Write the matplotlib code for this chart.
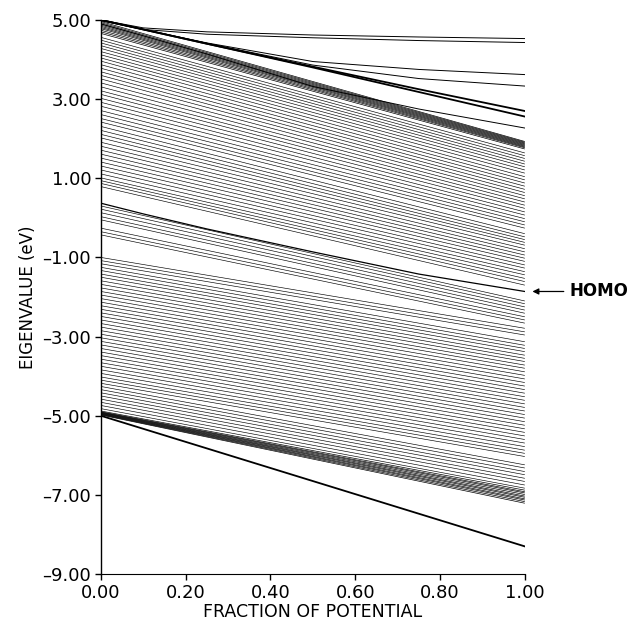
import matplotlib
matplotlib.use("Agg")
import matplotlib.pyplot as plt

# eigenvalues (eV), at fraction = 0 and fraction = 1
top_bunch_start = [4.96, 4.93, 4.90, 4.87, 4.84, 4.81, 4.78, 4.74, 4.70, 4.66]
top_bunch_end = [1.93, 1.91, 1.89, 1.87, 1.85, 1.83, 1.81, 1.79, 1.77, 1.74]

upper_start = [4.56, 4.49, 4.42, 4.35, 4.28, 4.20, 4.12, 4.04, 3.96, 3.87,
               3.78, 3.69, 3.60, 3.51, 3.41, 3.31, 3.21, 3.12, 3.02, 2.92,
               2.82, 2.71, 2.61, 2.51, 2.42, 2.31, 2.21, 2.11, 2.02, 1.91,
               1.81, 1.71, 1.61, 1.51, 1.41, 1.31, 1.21, 1.11, 1.01, 0.94,
               0.87, 0.79]
upper_end = [1.64, 1.57, 1.50, 1.43, 1.36, 1.29, 1.21, 1.13, 1.04, 0.96,
             0.88, 0.80, 0.72, 0.64, 0.56, 0.48, 0.40, 0.32, 0.24, 0.15,
             0.07, -0.02, -0.10, -0.18, -0.26, -0.40, -0.48, -0.55, -0.62, -0.69,
             -0.78, -0.86, -0.94, -1.02, -1.10, -1.19, -1.27, -1.36, -1.44, -1.53,
             -1.61, -1.70]

middle_start = [0.30, 0.22, 0.13, 0.03, -0.05, -0.26, -0.35, -0.43]
middle_end = [-2.10, -2.17, -2.25, -2.33, -2.41, -2.50, -2.58, -2.66]

lower_start = [-1.00, -1.08, -1.16, -1.25, -1.33, -1.42, -1.50, -1.59, -1.68, -1.77,
               -1.86, -1.95, -2.04, -2.13, -2.22, -2.31, -2.40, -2.49, -2.58, -2.67,
               -2.76, -2.85, -2.94, -3.03, -3.12, -3.21, -3.30, -3.39, -3.48, -3.57,
               -3.66, -3.75, -3.84, -3.93, -4.02, -4.10, -4.18, -4.26, -4.34, -4.42,
               -4.50, -4.58, -4.66, -4.74, -4.82]
lower_end = [-2.79, -2.88, -2.96, -3.13, -3.22, -3.30, -3.38, -3.47, -3.55, -3.63,
             -3.72, -3.80, -3.89, -3.98, -4.07, -4.16, -4.25, -4.34, -4.43, -4.52,
             -4.61, -4.70, -4.79, -4.88, -4.97, -5.06, -5.15, -5.24, -5.33, -5.42,
             -5.51, -5.60, -5.69, -5.78, -5.87, -5.95, -6.03, -6.24, -6.32, -6.41,
             -6.49, -6.58, -6.66, -6.75, -6.83]

bottom_bunch_start = [-4.88, -4.90, -4.91, -4.92, -4.93, -4.94, -4.95, -4.96, -4.97, -4.98]
bottom_bunch_end = [-6.88, -6.92, -6.95, -6.99, -7.03, -7.06, -7.10, -7.13, -7.17, -7.21]

lowest_start = -5.00
lowest_end = -8.30

# curved levels, sampled along the fraction axis
frac = [0.0, 0.1, 0.25, 0.5, 0.75, 1.0]
flat_1 = [5.00, 4.80, 4.70, 4.62, 4.57, 4.53]
flat_2 = [4.98, 4.76, 4.64, 4.55, 4.48, 4.43]
bend_1 = [5.00, 4.76, 4.42, 3.95, 3.75, 3.62]
bend_2 = [5.00, 4.76, 4.41, 3.86, 3.52, 3.33]
heavy_1 = [5.00, 4.76, 4.40, 3.82, 3.25, 2.70]
heavy_2 = [5.00, 4.76, 4.40, 3.80, 3.18, 2.56]
bend_3 = [4.90, 4.60, 4.14, 3.32, 2.75, 2.27]
homo = [0.37, 0.10, -0.28, -0.86, -1.42, -1.86]

y_ticks = [5, 3, 1, -1, -3, -5, -7, -9]
y_labels = ["5.00", "3.00", "1.00", "\u20131.00", "\u20133.00", "\u20135.00", "\u20137.00", "\u20139.00"]
x_ticks = [0.0, 0.2, 0.4, 0.6, 0.8, 1.0]
x_labels = ["0.00", "0.20", "0.40", "0.60", "0.80", "1.00"]


def draw_straight(ax, starts, ends, lw):
    for s, e in zip(starts, ends):
        ax.plot([0.0, 1.0], [s, e], color="black", lw=lw, solid_capstyle="butt")


fig = plt.figure(figsize=(6.27, 6.24), dpi=100)
ax = fig.add_axes([0.161, 0.080, 0.676, 0.888])

draw_straight(ax, top_bunch_start, top_bunch_end, 0.5)
draw_straight(ax, upper_start, upper_end, 0.45)
draw_straight(ax, middle_start, middle_end, 0.45)
draw_straight(ax, lower_start, lower_end, 0.45)
draw_straight(ax, bottom_bunch_start, bottom_bunch_end, 0.5)
ax.plot([0.0, 1.0], [lowest_start, lowest_end], color="black", lw=1.3)

for curve in [flat_1, flat_2, bend_1, bend_2, bend_3]:
    ax.plot(frac, curve, color="black", lw=0.7)
for curve in [heavy_1, heavy_2]:
    ax.plot(frac, curve, color="black", lw=1.3)
ax.plot(frac, homo, color="black", lw=0.9)

ax.set_xlim(0.0, 1.0)
ax.set_ylim(-9.0, 5.0)
ax.set_xticks(x_ticks)
ax.set_xticklabels(x_labels)
ax.set_yticks(y_ticks)
ax.set_yticklabels(y_labels)
ax.tick_params(direction="out", length=4, width=1, labelsize=13, pad=3)

for side in ["top", "right"]:
    ax.spines[side].set_visible(False)
ax.spines["left"].set_linewidth(1.0)
ax.spines["bottom"].set_linewidth(0.8)

ax.set_xlabel("FRACTION OF POTENTIAL", fontsize=12.5, labelpad=1)
ax.set_ylabel("EIGENVALUE (eV)", fontsize=12, labelpad=4)

ax.annotate("HOMO", xy=(1.018, homo[-1]), xytext=(1.105, homo[-1]),
            xycoords="data", textcoords="data", annotation_clip=False,
            fontsize=12, fontweight="bold", va="center", ha="left",
            arrowprops=dict(arrowstyle="-|>", color="black", lw=0.9,
                            mutation_scale=9, shrinkA=2, shrinkB=0))

fig.savefig("out.png", dpi=100)
